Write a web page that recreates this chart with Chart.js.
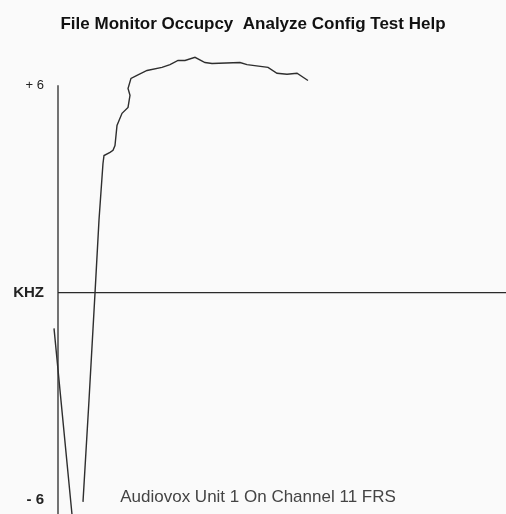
<!DOCTYPE html>
<html>
<head>
<meta charset="utf-8">
<script src="https://cdn.jsdelivr.net/npm/chart.js@4"></script>
<style>
  html, body { margin: 0; padding: 0; background: #fafafa; }
  #wrap { width: 506px; height: 514px; }
</style>
</head>
<body>
<div id="wrap"><canvas id="canva1"></canvas></div>
<script>
// dados (x = tempo, y = desvio em kHz)
// o null separa a descida (que sai da tela) da subida

var tempo  = [-0.89, 3.13, 4.2, 5.58, 6.92, 8.26, 9.15, 10.04, 10.27, 11.61, 12.28, 12.72, 13.17, 14.29, 15.63, 16.07, 15.63, 16.29, 17.63, 19.87, 23.21, 25.0, 26.79, 28.35, 30.58, 32.81, 34.38, 40.63, 42.19, 46.88, 48.88, 51.12, 53.35, 55.80];
var desvio = [-1.03, -6.42, null, -6.05, -3.11, -0.01, 2.10, 3.74, 3.97, 4.06, 4.12, 4.26, 4.84, 5.19, 5.36, 5.71, 5.91, 6.20, 6.29, 6.43, 6.52, 6.60, 6.72, 6.72, 6.81, 6.66, 6.63, 6.66, 6.60, 6.52, 6.35, 6.32, 6.35, 6.14];

var marcas_y  = [6, 0, -6];
var rotulos_y = ['+ 6', 'KHZ', '- 6'];

var menu    = 'File Monitor Occupcy  Analyze Config Test Help';
var legenda = 'Audiovox Unit 1 On Channel 11 FRS';

var myChart1;

function montaPontos() { // junta os dois arrays no formato do scatter
    var pontos = [];
    for (var i = 0; i < tempo.length; i++) {
        pontos.push({ x: tempo[i], y: desvio[i] });
    }
    return pontos;
}

var eixoPlugin = { // eixo vertical curto + texto do canal
    id: 'eixo',
    beforeDatasetsDraw: function (chart) {
        var c = chart.ctx;
        var sx = chart.scales.x, sy = chart.scales.y;
        var px = sx.getPixelForValue(0);
        c.save();
        c.strokeStyle = '#2a2a2a';
        c.lineWidth = 1.3;
        c.beginPath();
        c.moveTo(px, sy.getPixelForValue(marcas_y[0]));
        c.lineTo(px, chart.chartArea.bottom);
        c.stroke();
        c.restore();
    },
    afterDraw: function (chart) {
        var c = chart.ctx;
        c.save();
        c.font = '17px "Liberation Sans"';
        c.fillStyle = '#444';
        c.textAlign = 'center';
        c.textBaseline = 'middle';
        c.fillText(legenda, 258, chart.chartArea.bottom - 17);
        c.restore();
    }
};

function graficoTrace() {
    var ctx = document.getElementById('canva1').getContext('2d');
    myChart1 = new Chart(ctx, {
        type: 'scatter',
        data: {
            datasets: [{
                data: montaPontos(),
                showLine: true,
                spanGaps: false,
                borderColor: '#2e2e2e',
                borderWidth: 1.4,
                pointRadius: 0,
                tension: 0,
                clip: false
            }]
        },
        options: {
            responsive: true,
            maintainAspectRatio: false,
            animation: false,
            layout: { padding: 0 },
            plugins: {
                legend: { display: false },
                tooltip: { enabled: false },
                title: {
                    display: true,
                    text: menu,
                    color: '#111',
                    font: { family: 'Liberation Sans', size: 17, weight: 'bold' },
                    padding: { top: 14, bottom: 6 }
                }
            },
            scales: {
                x: {
                    type: 'linear',
                    display: false,
                    min: 0,
                    max: 100
                },
                y: {
                    min: -6.40,
                    max: 7.30,
                    afterFit: function (scale) {
                        scale.width = 58;
                        scale.paddingTop = 0;
                        scale.paddingBottom = 0;
                    },
                    afterBuildTicks: function (scale) {
                        scale.ticks = marcas_y.map(function (v) { return { value: v }; });
                    },
                    border: { display: false },
                    grid: {
                        drawTicks: false,
                        lineWidth: 1.3,
                        color: function (c) { return c.tick && c.tick.value === 0 ? '#2a2a2a' : 'transparent'; }
                    },
                    ticks: {
                        padding: 14,
                        color: '#222',
                        font: function (c) {
                            var i = c.index;
                            return { family: 'Liberation Sans', size: i === 0 ? 13 : 15, weight: i === 0 ? 'normal' : 'bold' };
                        },
                        callback: function (v, i) { return rotulos_y[i]; }
                    }
                }
            }
        },
        plugins: [eixoPlugin]
    });
}

graficoTrace();
</script>
</body>
</html>
